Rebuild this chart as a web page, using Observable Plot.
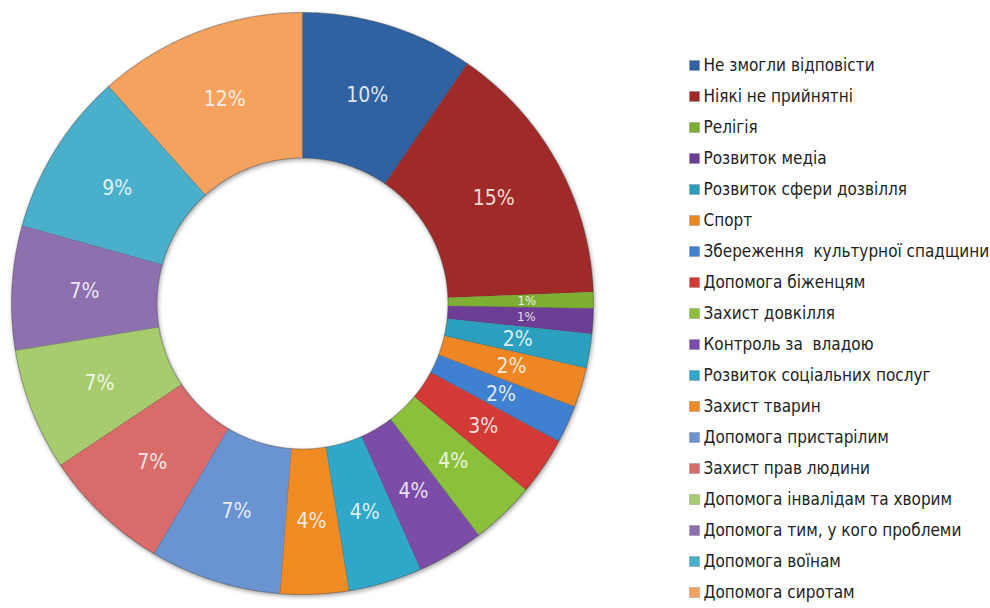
<!DOCTYPE html>
<html>
<head>
<meta charset="utf-8">
<script src="https://cdn.jsdelivr.net/npm/d3@7"></script>
<script src="https://cdn.jsdelivr.net/npm/@observablehq/plot@0.6"></script>
<style>
  html, body { margin: 0; padding: 0; background: #ffffff; }
  #wrap { position: relative; width: 990px; height: 608px; overflow: hidden; background: #fff; }
  #donut { position: absolute; left: 0; top: 0; }
  #legend { position: absolute; left: 640px; top: 0; }
  #donut g[aria-label="line"] { filter: drop-shadow(1px 2px 2px rgba(0,0,0,0.35)); }
</style>
</head>
<body>
<div id="wrap"><div id="donut"></div><div id="legend"></div></div>
<script>
const categories = [
  "Не змогли відповісти",
  "Ніякі не прийнятні",
  "Релігія",
  "Розвиток медіа",
  "Розвиток сфери дозвілля",
  "Спорт",
  "Збереження  культурної спадщини",
  "Допомога біженцям",
  "Захист довкілля",
  "Контроль за  владою",
  "Розвиток соціальних послуг",
  "Захист тварин",
  "Допомога пристарілим",
  "Захист прав людини",
  "Допомога інвалідам та хворим",
  "Допомога тим, у кого проблеми",
  "Допомога воїнам",
  "Допомога сиротам"
];
const values = [9.6, 14.8, 0.9, 1.4, 1.9, 2.2, 2.1, 3.2, 3.6, 3.7, 4.1, 3.8, 7.3, 7.1, 6.8, 6.9, 9.1, 11.6];
const colors = [
  "#2f62a3", "#a02a28", "#7faf32", "#6d3e96", "#2aa0be", "#ee8624",
  "#3f80d0", "#d33a36", "#8bc03a", "#7b4da8", "#2ea7c8", "#f08b24",
  "#6a93d2", "#d96b6b", "#a7cc6e", "#8e6fb0", "#4aafcb", "#f5a25f"
];

const data = categories.map((c, i) => ({category: c, value: values[i]}));
const total = d3.sum(values);
const arcs = d3.pie().sort(null).value(d => d.value)(data);
const innerR = 0.5, outerR = 1;

// polygon outline of each slice, sampled along its arcs
const pts = [];
for (const a of arcs) {
  const n = Math.max(4, Math.ceil((a.endAngle - a.startAngle) / 0.01));
  for (let k = 0; k <= n; k++) {
    const t = a.startAngle + (a.endAngle - a.startAngle) * k / n;
    pts.push({category: a.data.category, x: outerR * Math.sin(t), y: outerR * Math.cos(t)});
  }
  for (let k = n; k >= 0; k--) {
    const t = a.startAngle + (a.endAngle - a.startAngle) * k / n;
    pts.push({category: a.data.category, x: innerR * Math.sin(t), y: innerR * Math.cos(t)});
  }
}
const labelR = 0.75;
const labels = arcs.map((a, i) => {
  const m = (a.startAngle + a.endAngle) / 2;
  return {category: a.data.category, x: labelR * Math.sin(m), y: labelR * Math.cos(m),
          text: Math.round(a.data.value / total * 100) + "%",
          small: a.data.value < 1.5};
});

const colorScale = {domain: categories, range: colors};
const narrow = "'Liberation Sans Narrow', 'Arial Narrow', 'DejaVu Sans Condensed', 'Roboto', sans-serif";

const donut = Plot.plot({
  width: 620, height: 608, margin: 0,
  style: {background: "transparent", overflow: "visible"},
  x: {domain: [-1, 1], range: [11, 593], axis: null},
  y: {domain: [-1, 1], range: [594, 12], axis: null},
  color: colorScale,
  marks: [
    Plot.line(pts, {x: "x", y: "y", z: "category", fill: "category",
      stroke: "#3a3a3a", strokeOpacity: 0.35, strokeWidth: 1.2, curve: "linear"}),
    Plot.text(labels.filter(d => !d.small), {x: "x", y: "y", text: "text", fill: "white", fillOpacity: 0.85,
      fontSize: 21, fontFamily: narrow}),
    Plot.text(labels.filter(d => d.small), {x: "x", y: "y", text: "text", fill: "white", fillOpacity: 0.85,
      fontSize: 13, dx: 6, fontFamily: narrow})
  ]
});
document.getElementById("donut").appendChild(donut);

const legend = Plot.plot({
  width: 350, height: 608, margin: 0,
  style: {background: "transparent", overflow: "visible"},
  y: {type: "point", domain: categories, range: [60, 597], padding: 0, axis: null},
  color: colorScale,
  marks: [
    Plot.dot(categories, {y: d => d, frameAnchor: "left", dx: 54, symbol: "square", r: 5.6,
      fill: d => d, stroke: "#555", strokeOpacity: 0.35, strokeWidth: 0.8}),
    Plot.text(categories, {y: d => d, frameAnchor: "left", dx: 63, textAnchor: "start",
      text: d => d, fill: "#222", fontSize: 17, fontFamily: narrow})
  ]
});
document.getElementById("legend").appendChild(legend);
</script>
</body>
</html>
